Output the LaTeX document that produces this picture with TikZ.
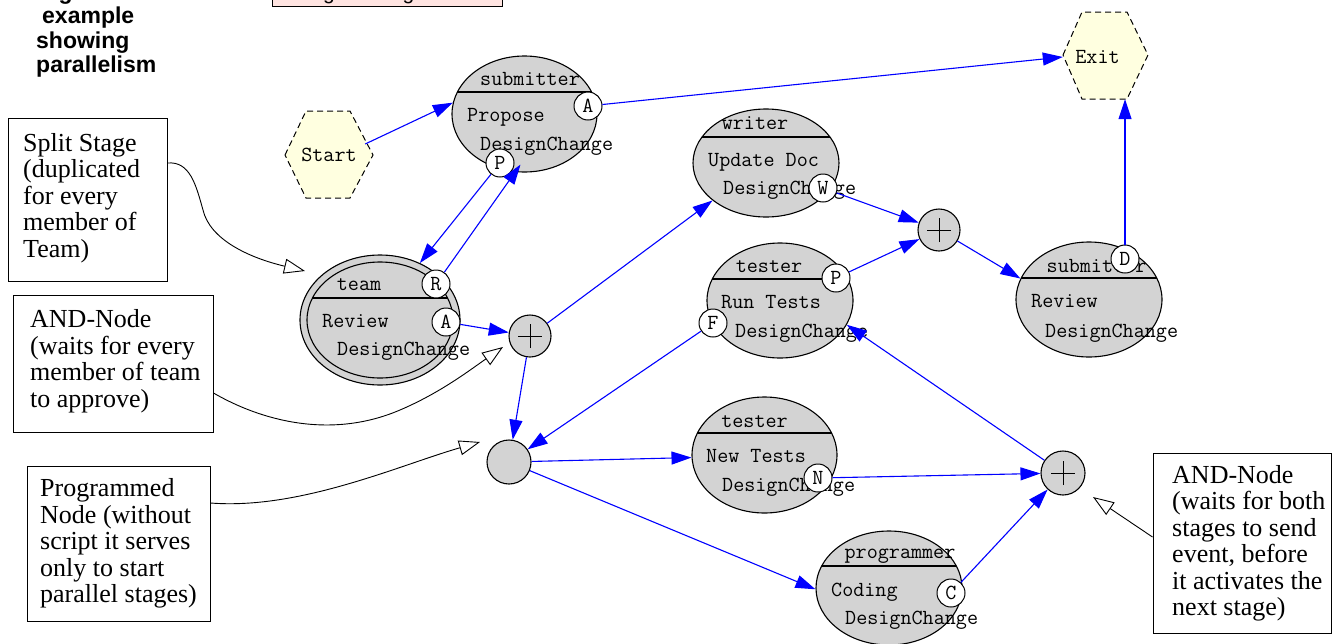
\documentclass[tikz,border=0pt]{standalone}
\usepackage{fontspec}
\setmainfont{Liberation Serif}
\newfontfamily\headfont{Liberation Sans}
\usetikzlibrary{shapes.geometric,arrows.meta,calc}
\definecolor{stagegray}{HTML}{D3D3D3}
\definecolor{hexyellow}{HTML}{FFFFE0}
\definecolor{legendpink}{HTML}{FFE4E1}

\tikzset{
  mono/.style={font=\ttfamily\fontsize{21.5}{24}\selectfont, inner sep=0pt},
  stage/.style={ellipse, draw, line width=1.1pt, fill=stagegray, inner sep=0pt},
  divider/.style={path picture={\draw[line width=1.1pt]
      ([yshift=#1]path picture bounding box.west) -- ([yshift=#1]path picture bounding box.east);}},
  port/.style={circle, draw, line width=1pt, fill=white, minimum size=28pt, inner sep=0pt,
      font=\ttfamily\fontsize{21.5}{24}\selectfont},
  plainnode/.style={circle, draw, line width=1.1pt, fill=stagegray, minimum size=#1, inner sep=0pt},
  andnode/.style={plainnode=#1, path picture={\draw[line width=1pt]
      ([xshift=-12pt]path picture bounding box.center) -- ([xshift=12pt]path picture bounding box.center)
      ([yshift=-12pt]path picture bounding box.center) -- ([yshift=12pt]path picture bounding box.center);}},
  hexline/.style={draw=black, dash pattern=on 6pt off 4pt, line width=1pt, fill=hexyellow},
  hexanchor/.style={rectangle, inner sep=0pt},
  flow/.style={draw=blue, line width=1.1pt, -{Triangle[length=20pt,width=13pt]}},
  note/.style={draw=black, line width=0.9pt, -{Triangle[open,length=21pt,width=15pt]}},
  notebox/.style={rectangle, draw, line width=1pt, inner sep=0pt},
  notetext/.style={font=\fontsize{26}{26.5}\selectfont, align=left, inner sep=0pt, anchor=west},
  titletext/.style={font=\headfont\bfseries\fontsize{23}{24.5}\selectfont, align=left, inner sep=0pt},
  legendbox/.style={rectangle, draw, line width=1pt, fill=legendpink, inner sep=0pt}
}

\begin{document}
\begin{tikzpicture}[x=1pt, y=-1pt]
\useasboundingbox (0,0) rectangle (1334,643);

% heading and legend box
\node[titletext, anchor=north west] (title) at (36,-17.5)
  {\hspace*{2pt}Figure 5:\\\hspace*{6pt}example\\showing\\parallelism};
\node[legendbox, anchor=south west, minimum width=230pt, minimum height=40pt] (legend) at (272,7) {};
\node[font=\headfont\fontsize{21}{24}\selectfont, anchor=base west, inner sep=0pt] (legendtext) at (281,-1) {Design Change};

% start and exit hexagons
\filldraw[hexline] (285,155) -- (306,111) -- (350,111) -- (373,155) -- (350,198) -- (306,198) -- cycle;
\node[hexanchor, mono, minimum width=88pt, minimum height=87pt] (start) at (329,155) {Start};
\filldraw[hexline] (1063,55) -- (1082,12) -- (1127,12) -- (1148,55) -- (1127,99) -- (1082,99) -- cycle;
\node[hexanchor, minimum width=85pt, minimum height=87pt] (exit) at (1105.5,55.5) {};
\node[mono] (exitlabel) at (1097.5,57) {Exit};

% submitter: Propose DesignChange
\node[stage, divider=22pt, minimum width=145pt, minimum height=116pt] (sub1) at (524.5,114) {};
\node[mono, anchor=base] (sub1role) at (530,85) {submitter};
\node[mono, anchor=base west] (sub1task) at (467,121) {Propose};
\node[mono, anchor=base west] (sub1obj) at (480,150) {DesignChange};

% team: Review DesignChange (split stage, double outline)
\node[stage, minimum width=160pt, minimum height=130pt] (team) at (380,320) {};
\node[stage, divider=22pt, minimum width=146pt, minimum height=116pt] (teamin) at (380,320) {};
\node[mono, anchor=base] (teamrole) at (359,290) {team};
\node[mono, anchor=base west] (teamtask) at (322,327) {Review};
\node[mono, anchor=base west] (teamobj) at (337,355) {DesignChange};

% writer: Update Doc
\node[stage, divider=26pt, minimum width=146pt, minimum height=108pt] (writer) at (766,163) {};
\node[mono, anchor=base] (writerrole) at (755,129) {writer};
\node[mono, anchor=base west] (writertask) at (708,166) {Update Doc};
\node[mono, anchor=base west] (writerobj) at (723,194) {DesignChange};

% tester: Run Tests
\node[stage, divider=21.5pt, minimum width=146pt, minimum height=115pt] (tst1) at (780,300.5) {};
\node[mono, anchor=base] (tst1role) at (769,272) {tester};
\node[mono, anchor=base west] (tst1task) at (721,308) {Run Tests};
\node[mono, anchor=base west] (tst1obj) at (735,337) {DesignChange};

% submitter: Review DesignChange
\node[stage, divider=21.5pt, minimum width=146pt, minimum height=115pt] (sub2) at (1089,299.5) {};
\node[mono, anchor=base] (sub2role) at (1096.5,272) {submitter};
\node[mono, anchor=base west] (sub2task) at (1031,307) {Review};
\node[mono, anchor=base west] (sub2obj) at (1045,337) {DesignChange};

% tester: New Tests
\node[stage, divider=22pt, minimum width=145pt, minimum height=116pt] (tst2) at (764.5,455) {};
\node[mono, anchor=base] (tst2role) at (754.5,427) {tester};
\node[mono, anchor=base west] (tst2task) at (706,462) {New Tests};
\node[mono, anchor=base west] (tst2obj) at (722,491) {DesignChange};

% programmer: Coding
\node[stage, divider=22pt, minimum width=146pt, minimum height=114pt] (prg) at (889,588) {};
\node[mono, anchor=base] (prgrole) at (900,558) {programmer};
\node[mono, anchor=base west] (prgtask) at (831,596) {Coding};
\node[mono, anchor=base west] (prgobj) at (845,624) {DesignChange};

% event ports
\node[port] (s1A) at (588,106) {A};
\node[port] (s1P) at (500,163) {P};
\node[port] (tmR) at (436,284) {R};
\node[port] (tmA) at (446,322) {A};
\node[port] (wrW) at (823,188) {W};
\node[port] (t1P) at (836,278) {P};
\node[port] (t1F) at (713,323) {F};
\node[port] (s2D) at (1125,259) {D};
\node[port] (t2N) at (818,478) {N};
\node[port] (pgC) at (951,593) {C};

% AND-nodes and the programmed node
\node[andnode=42pt] (andL) at (530,336) {};
\node[andnode=42pt] (andU) at (939,230) {};
\node[andnode=44pt] (andR) at (1063,473) {};
\node[plainnode=44pt] (prog) at (509,462) {};

% flow of events
\draw[flow] ($(start.east)+(-8,-11)$) -- (sub1.171);
\draw[flow] (s1A) -- (exit.182);
\draw[flow] (s1P) -- (team.55);
\draw[flow] (tmR) -- ($(sub1.south)+(-4,-8)$);
\draw[flow] (tmA) -- (andL);
\draw[flow] (andL) -- (writer.215);
\draw[flow] (andL) -- (prog);
\draw[flow] (wrW) -- (andU);
\draw[flow] (t1P) -- (andU);
\draw[flow] (andU) -- (sub2.163);
\draw[flow] (s2D) -- (s2D |- exit.south);
\draw[flow] (t1F) -- (prog);
\draw[flow] (prog) -- (tst2.182);
\draw[flow] (prog) -- (prg.181);
\draw[flow] (t2N) -- (andR);
\draw[flow] (pgC) -- (andR);
\draw[flow] (andR) -- (tst1.340);

% explanatory notes
\node[notebox, minimum width=159pt, minimum height=163pt] (splitnote) at (87.5,199.5) {};
\node[notetext] (splittext) at (23,198) {Split Stage\\(duplicated\\for every\\member of\\Team)};
\node[notebox, minimum width=200pt, minimum height=137pt] (andnote) at (113,363.5) {};
\node[notetext] (andtext) at (30,361.4) {AND-Node\\(waits for every\\member of team\\to approve)};
\node[notebox, minimum width=183pt, minimum height=155pt] (prognote) at (118.5,543.5) {};
\node[notetext] (progtext) at (40,543.4) {Programmed\\Node (without\\script it serves\\only to start\\parallel stages)};
\node[notebox, minimum width=178pt, minimum height=180pt] (andnoteR) at (1242,543) {};
\node[notetext] (andtextR) at (1172,543.4) {AND-Node\\(waits for both\\stages to send\\event, before\\it activates the\\next stage)};

\coordinate (splittip) at (305,271);
\coordinate (andtip) at (503,347);
\coordinate (progtip) at (480,442);
\coordinate (andtipR) at (1093,497);
\draw[note] ($(splitnote.east)+(0,-36.5)$) .. controls (190,161) and (196,185) .. (203,210)
  .. controls (210,240) and (250,258) .. (splittip);
\draw[note] ($(andnote.east)+(0,29.5)$) .. controls (260,420) and (330,440) .. (400,410)
  .. controls (440,393) and (470,370) .. (andtip);
\draw[note] ($(prognote.east)+(0,-40.5)$) .. controls (300,510) and (400,465) .. (progtip);
\draw[note] ($(andnoteR.west)+(0,-6)$) -- (andtipR);
\end{tikzpicture}
\end{document}
